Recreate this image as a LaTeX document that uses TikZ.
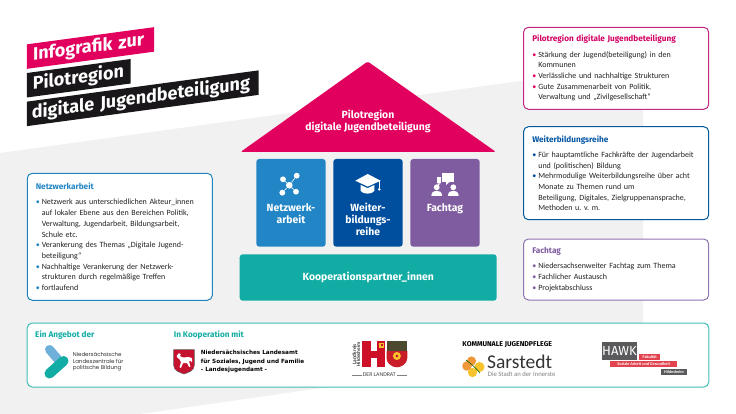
\documentclass[tikz,border=0pt]{standalone}
\usepackage{fontspec}
\setmainfont{Carlito}
\newfontfamily\headfont{Fira Sans}
\newfontfamily\wideboldfont{DejaVu Sans}
\newfontfamily\logofont{Poppins}
\usetikzlibrary{calc}
\usetikzlibrary{positioning}
\definecolor{pilotpink}{HTML}{E2005E}
\definecolor{netblue}{HTML}{2286C6}
\definecolor{furtherblue}{HTML}{004F9E}
\definecolor{dayviolet}{HTML}{7F5BA0}
\definecolor{partnerteal}{HTML}{11ACA3}
\definecolor{bandgrey}{HTML}{F1F1F2}
\definecolor{barblack}{HTML}{1A171B}
\definecolor{bodygrey}{HTML}{222222}
\definecolor{hawkgrey}{HTML}{5A5A5C}
\definecolor{hawkred}{HTML}{E2444F}
\definecolor{crestred}{HTML}{C4122F}
\definecolor{sarorange}{HTML}{F0973A}
\definecolor{saryellow}{HTML}{F8C32C}
\newcommand{\bul}[1]{\makebox[6pt][l]{\textcolor{#1}{\textbullet}}}
\newcommand{\gap}{\hspace*{6pt}}
\newcommand{\cardtitle}[2]{{\headfont\bfseries\fontsize{8.2}{10}\selectfont\textcolor{#1}{#2}}\\[4.6pt]}
\begin{document}
\begin{tikzpicture}
  [
    x = 1pt, y = -1pt,
    node distance = 77pt,
    card/.style = {rectangle, draw, line width = 1pt, fill = white, rounded corners = 5pt,
                   outer sep = 0pt, inner sep = 0pt, align = left, text = bodygrey,
                   font = \frenchspacing\fontsize{8}{10.7}\selectfont},
    rightcard/.style = {card, text width = 167.6pt, minimum width = 185.2pt},
    tile/.style = {rectangle, rounded corners = 3pt, minimum width = 69.4pt,
                   minimum height = 87.7pt, outer sep = 0pt},
    tilelabel/.style = {inner sep = 0pt, align = center, text = white,
                        font = \headfont\bfseries\fontsize{10.4}{12}\selectfont},
    banner/.style = {rectangle, text = white, yslant = 0.135, outer sep = 0pt, inner sep = 0pt,
                     align = left, minimum height = 24.5pt,
                     font = \headfont\bfseries\fontsize{18}{20}\selectfont},
    head/.style = {anchor = west, inner sep = 0pt, text = partnerteal,
                   font = \headfont\bfseries\fontsize{8.2}{10}\selectfont},
    small/.style = {anchor = west, inner sep = 0pt, align = left},
    dot/.style = {circle, fill = white, inner sep = 0pt},
    tag/.style = {rectangle, inner sep = 0pt, text = white, font = \bfseries\fontsize{4.2}{5}\selectfont},
  ]
  \useasboundingbox (0,0) rectangle (736,414);
  \fill[bandgrey] (0,153) -- (643,64) -- (643,342) -- (140,414) -- (0,414) -- cycle;

  % title bars
  \node[banner, fill = pilotpink, minimum width = 127.3pt, text width = 115pt] (bar_top) at (90.5,48) {Infografik zur};
  \node[banner, fill = barblack, minimum width = 103.7pt, text width = 92pt] (bar_mid) at (78.8,78.25) {Pilotregion};
  \node[banner, fill = barblack, minimum width = 231.7pt, text width = 222pt] (bar_low) at (142.8,98.25) {digitale Jugendbeteiligung};

  % house
  \fill[pilotpink, rounded corners = 1.5pt] (367.7,61.5) -- (496,152) -- (240.5,152) -- cycle;
  \node[tilelabel] (roof_text) at (368,121) {Pilotregion\\digitale Jugendbeteiligung};
  \node[tile, fill = netblue] (tile_net) at (291,202.8) {};
  \node[tile, fill = furtherblue] [right of = tile_net, xshift = 0pt] (tile_further) {};
  \node[tile, fill = dayviolet] [right of = tile_further, xshift = 0pt] (tile_day) {};
  \node[tilelabel] [below = 44pt of tile_net.north] (label_net) {Netzwerk-\\arbeit};
  \node[tilelabel] [below = 44pt of tile_further.north] (label_further) {Weiter-\\bildungs-\\reihe};
  \node[tilelabel] [below = 44pt of tile_day.north] (label_day) {Fachtag};
  \node[tile, fill = partnerteal, minimum width = 257pt, minimum height = 46.4pt,
        font = \headfont\bfseries\fontsize{10.4}{12}\selectfont, text = white]
        (tile_partner) at (368.2,277.5) {Kooperationspartner\_innen};

  % network icon
  \node[dot, minimum size = 6.6pt] (net_c) at (289.3,185.3) {};
  \foreach \name/\xpos/\ypos in {net_a/283/179.3, net_b/296.7/175.7, net_d/282.3/192.7, net_e/296/191.7}
  {
    \node[dot, minimum size = 5.8pt] (\name) at (\xpos,\ypos) {};
    \draw[white, line width = 0.6pt] (net_c) -- (\name);
  }

  % mortarboard icon
  \fill[white] (355.3,180.7) -- (367.7,174) -- (380.7,180.7) -- (367.7,186.6) -- cycle;
  \fill[white] (360.7,185) -- (367.7,188.2) -- (374.3,185) -- (374.3,191)
     .. controls (372,194.5) and (363,194.5) .. (360.7,191) -- cycle;
  \node[dot, minimum size = 2.8pt] (cap_tassel) at (379.3,189.3) {};
  \coordinate (cap_knot) at (379.3,181.2);
  \draw[white, line width = 0.6pt] (cap_knot) -- (cap_tassel);

  % people icon
  \fill[white] (442,172.7) rectangle (454,182);
  \fill[white] (446,182) -- (446,185) -- (449.5,182) -- cycle;
  \fill[white] (436.7,177) rectangle (441,183.5);
  \fill[white] (437.7,183.5) -- (437.7,186) -- (440.5,183.5) -- cycle;
  \foreach \xpos in {436.7,453.3}
  {
    \fill[white] (\xpos,187.3) circle (2.9pt);
    \fill[white] (\xpos-5.4,195.9) .. controls (\xpos-5.2,191.6) and (\xpos-2.5,190.8) .. (\xpos,190.8)
       .. controls (\xpos+2.5,190.8) and (\xpos+5.2,191.6) .. (\xpos+5.4,195.9) -- cycle;
  }

  % text cards
  \node[rightcard, draw = pilotpink!55!violet!85, minimum height = 82pt] (card_pilot) at (616.1,68.3)
  {\cardtitle{pilotpink!85!violet}{Pilotregion digitale Jugendbeteiligung}
   \bul{pilotpink}Stärkung der Jugend(beteiligung) in den\\
   \gap Kommunen\\
   \bul{pilotpink}Verlässliche und nachhaltige Strukturen\\
   \bul{pilotpink}Gute Zusammenarbeit von Politik,\\
   \gap Verwaltung und „Zivilgesellschaft“};
  \node[rightcard, draw = furtherblue!75!teal, minimum height = 93pt] [below = 17.4pt of card_pilot] (card_further)
  {\cardtitle{furtherblue!85!netblue}{Weiterbildungsreihe}
   \bul{furtherblue}Für hauptamtliche Fachkräfte der Jugendarbeit\\
   \gap und (politischen) Bildung\\
   \bul{furtherblue}Mehrmodulige Weiterbildungsreihe über acht\\
   \gap Monate zu Themen rund um\\
   \gap Beteiligung, Digitales, Zielgruppenansprache,\\
   \gap Methoden u. v. m.};
  \node[rightcard, draw = dayviolet!85, minimum height = 61pt] [below = 19.3pt of card_further] (card_day)
  {\cardtitle{dayviolet}{Fachtag}
   \bul{dayviolet}Niedersachsenweiter Fachtag zum Thema\\
   \bul{dayviolet}Fachlicher Austausch\\
   \bul{dayviolet}Projektabschluss};
  \node[card, draw = netblue!85!teal, text width = 168pt, minimum width = 185pt, minimum height = 127pt] (card_net) at (119.8,236.8)
  {\cardtitle{netblue}{Netzwerkarbeit}
   \bul{netblue}Netzwerk aus unterschiedlichen Akteur\_innen\\
   \gap auf lokaler Ebene aus den Bereichen Politik,\\
   \gap Verwaltung, Jugendarbeit, Bildungsarbeit,\\
   \gap Schule etc.\\
   \bul{netblue}Verankerung des Themas „Digitale Jugend-\\
   \gap beteiligung“\\
   \bul{netblue}Nachhaltige Verankerung der Netzwerk-\\
   \gap strukturen durch regelmäßige Treffen\\
   \bul{netblue}fortlaufend};

  % partner strip
  \node[card, draw = partnerteal!80, minimum width = 681.6pt, minimum height = 64pt] (card_partner) at (368,355) {};
  \node[head] (head_offer) at (35,335.3) {Ein Angebot der};
  \node[head] (head_coop) at (173.7,335.3) {In Kooperation mit};

  % Landeszentrale logo
  \coordinate (lpb_a) at (49.5,349.5);
  \coordinate (lpb_b) at (58,359.5);
  \coordinate (lpb_c) at (63.5,361);
  \coordinate (lpb_d) at (49.5,373.5);
  \draw[netblue!65!white, line width = 9pt, line cap = round] (lpb_a) -- (lpb_b);
  \draw[partnerteal, line width = 10pt, line cap = round] (lpb_c) -- (lpb_d);
  \node[small, font = \logofont\fontsize{5.5}{6.5}\selectfont, text = black!80] (lpb_text) at (72.7,361.7)
  {Niedersächsische\\Landeszentrale für\\politische Bildung};

  % Niedersachsen crest
  \draw[black!60, fill = crestred, line width = 0.5pt] (173.6,349.6) -- (194.4,349.6) -- (194.4,365)
     .. controls (194.4,371) and (188,372.5) .. (184,374) .. controls (180,372.5) and (173.6,371) .. (173.6,365) -- cycle;
  \fill[white, rounded corners = 0.6pt] (176.5,356) -- (179,353) -- (181,354.5) -- (179.5,356) -- (183,357.5) -- (188.5,357)
     -- (192,358) -- (192,363) -- (190.5,360.5) -- (189,361) -- (190.5,367) -- (189,367) -- (187,363)
     -- (183,363) -- (181,368) -- (179.5,367.5) -- (181,362) -- (179,358.5) -- (177.5,358) -- cycle;
  \node[small, font = \wideboldfont\bfseries\fontsize{5.7}{8.3}\selectfont, text = black] (state_text) at (200.7,361.7)
  {Niedersächsisches Landesamt\\für Soziales, Jugend und Familie\\- Landesjugendamt -};

  % Landkreis logo
  \node[inner sep = 0pt, rotate = 90, align = center, text = black!75, font = \bfseries\fontsize{5.2}{4}\selectfont] (county_side) at (356.3,354.3)
  {Landkreis\\Hildesheim};
  \fill[crestred!85!red] (362,341.3) rectangle (385.3,367.3);
  \fill[white] (371,341.3) rectangle (376.5,351);
  \fill[white] (371,358) rectangle (376.5,367.3);
  \fill[saryellow] (379,342.5) rectangle (384,348);
  \fill[crestred] (380.5,344) rectangle (382.5,346);
  \fill[black!60!olive] (386.5,341.3) rectangle (407.3,351);
  \fill[crestred!90!orange] (386.5,351) -- (407.3,351) -- (407.3,358)
     .. controls (407.3,364) and (401,367.3) .. (396.9,367.3) .. controls (392.8,367.3) and (386.5,364) .. (386.5,358) -- cycle;
  \fill[saryellow] (396.9,356) circle (4pt);
  \fill[crestred] (396.9,356) circle (1.5pt);
  \node[inner sep = 0pt, text = black!75, font = \fontsize{5.8}{6}\selectfont] (county_text) at (379.3,374.7) {DER LANDRAT};
  \coordinate (county_l) at (351.7,374.7);
  \coordinate (county_r) at (406.7,374.7);
  \draw[black!50, line width = 0.4pt] (county_l) -- ($(county_text.west)+(-1,0)$);
  \draw[black!50, line width = 0.4pt] ($(county_text.east)+(1,0)$) -- (county_r);

  % Sarstedt logo
  \node[inner sep = 0pt, text = black, font = \headfont\bfseries\fontsize{7}{8}\selectfont] (youth_text) at (507.2,344.5) {KOMMUNALE JUGENDPFLEGE};
  \fill[sarorange] (471.5,361) circle (4.6pt);
  \fill[sarorange] (467,366) circle (4.8pt);
  \fill[saryellow] (479.5,367) circle (5pt);
  \fill[saryellow] (472.5,372.5) circle (4.6pt);
  \draw[black!60!green, line width = 0.6pt] (466,360) .. controls (471,364) and (474,366) .. (480,373);
  \node[small, font = \fontsize{19.5}{20}\selectfont, text = black!80] (sar_text) at (487,361.5) {Sarstedt};
  \node[small, font = \fontsize{6.7}{7}\selectfont, text = black!50] (sar_sub) at (487.7,374.5) {Die Stadt an der Innerste};

  % HAWK logo
  \node[rectangle, fill = hawkgrey, inner sep = 0pt, minimum width = 35.6pt, minimum height = 17.7pt,
        text = white, font = \headfont\fontsize{13}{14}\selectfont] (hawk_box) at (619.5,350.8) {HAWK};
  \node[tag, fill = hawkred, minimum width = 20.7pt, minimum height = 6.3pt] (hawk_fac) at (649.7,357.2) {Fakultät};
  \node[tag, fill = hawkred, minimum width = 67.3pt, minimum height = 6.6pt] (hawk_soc) at (643.7,364) {Soziale Arbeit und Gesundheit};
  \node[tag, fill = hawkgrey, minimum width = 26.6pt, minimum height = 6pt] (hawk_hil) at (674,371.7) {Hildesheim};
\end{tikzpicture}
\end{document}
